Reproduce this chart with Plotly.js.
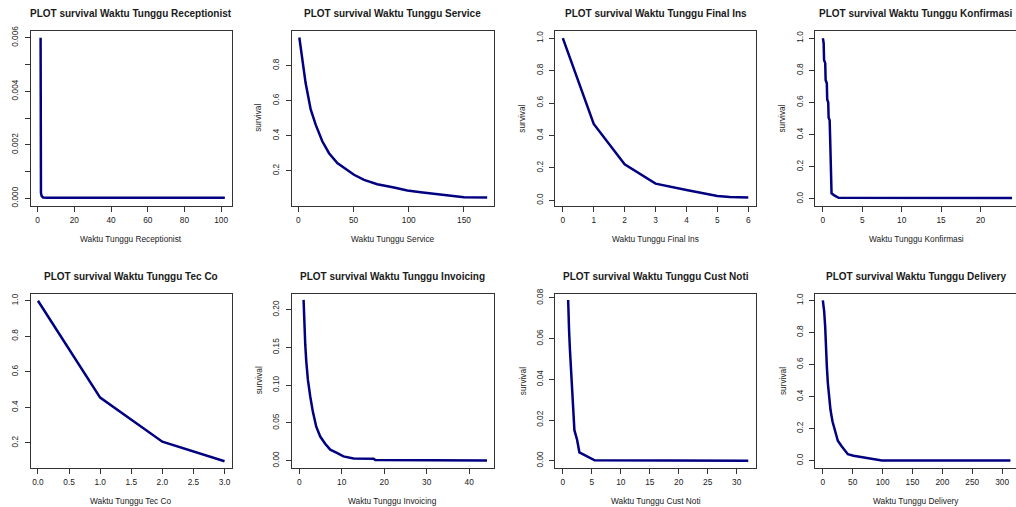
<!DOCTYPE html>
<html>
<head>
<meta charset="utf-8">
<script src="https://cdn.plot.ly/plotly-3.0.1.min.js"></script>
<style>html,body{margin:0;padding:0;background:#fff;}#chart{width:1016px;height:507px;}</style>
</head>
<body>
<div id="chart"></div>
<script>
// ---------- data ----------
const titles = [
  "PLOT survival Waktu Tunggu Receptionist",
  "PLOT survival Waktu Tunggu Service",
  "PLOT survival Waktu Tunggu Final Ins",
  "PLOT survival Waktu Tunggu Konfirmasi",
  "PLOT survival Waktu Tunggu Tec Co",
  "PLOT survival Waktu Tunggu Invoicing",
  "PLOT survival Waktu Tunggu Cust Noti",
  "PLOT survival Waktu Tunggu Delivery"
];
const xLabels = [
  "Waktu Tunggu Receptionist", "Waktu Tunggu Service", "Waktu Tunggu Final Ins", "Waktu Tunggu Konfirmasi",
  "Waktu Tunggu Tec Co", "Waktu Tunggu Invoicing", "Waktu Tunggu Cust Noti", "Waktu Tunggu Delivery"
];
const yLabel = "survival";

const receptionistX = [1.6, 1.65, 1.8, 2.2, 3, 5, 102];
const receptionistY = [0.006, 0.0004, 0.0002, 0.00008, 0.00003, 0.00002, 0.00002];

const serviceX = [0.9, 3.6, 6.6, 11.2, 15.7, 21.7, 27.8, 35.3, 41.4, 50.4, 59.5, 71.5, 86.6, 98.7, 110.8, 125.9, 141, 150, 171];
const serviceY = [0.96, 0.845, 0.70, 0.55, 0.463, 0.368, 0.30, 0.244, 0.215, 0.177, 0.148, 0.123, 0.104, 0.087, 0.078, 0.066, 0.057, 0.049, 0.047];

const finalInsX = [0, 1, 2, 3, 4, 5, 5.4, 6];
const finalInsY = [1.0, 0.471, 0.222, 0.103, 0.064, 0.027, 0.02, 0.018];

const konfirmasiX = [0, 0.1, 0.15, 0.3, 0.35, 0.5, 0.55, 0.68, 0.73, 0.86, 0.92, 1.02, 1.1, 1.5, 2.0, 24];
const konfirmasiY = [1.0, 0.97, 0.865, 0.845, 0.74, 0.72, 0.62, 0.6, 0.506, 0.49, 0.384, 0.156, 0.035, 0.02, 0.007, 0.006];

const tecCoX = [0, 1, 2, 3];
const tecCoY = [1.0, 0.455, 0.207, 0.097];

const invoicingX = [1.02, 1.18, 1.41, 1.65, 2.04, 2.59, 3.2, 4.0, 4.94, 6.1, 7.3, 8.86, 10.4, 12.8, 17.5, 17.9, 37.9, 38.0, 44.2];
const invoicingY = [0.213, 0.178, 0.154, 0.132, 0.107, 0.085, 0.065, 0.045, 0.032, 0.0225, 0.0146, 0.0102, 0.0057, 0.003, 0.0026, 0.0009, 0.0009, 0.0001, 0.0001];

const custNotiX = [0.92, 1.0, 1.08, 1.22, 1.3, 1.45, 1.55, 1.68, 1.8, 2.0, 2.46, 2.86, 3.6, 4.75, 5.5, 32];
const custNotiY = [0.079, 0.066, 0.064, 0.055, 0.051, 0.044, 0.036, 0.033, 0.024, 0.015, 0.0103, 0.0041, 0.003, 0.0013, 0.0002, 0.0];

const deliveryX = [0, 2.2, 3.9, 5.0, 6.7, 8.4, 10.6, 12.8, 16.2, 20.7, 25.1, 31.8, 41.9, 51.4, 65.4, 82, 98.9, 314];
const deliveryY = [1.0, 0.933, 0.839, 0.693, 0.589, 0.484, 0.40, 0.317, 0.244, 0.18, 0.124, 0.088, 0.04, 0.031, 0.021, 0.0104, 0.001, 0.001];

const seriesX = [receptionistX, serviceX, finalInsX, konfirmasiX, tecCoX, invoicingX, custNotiX, deliveryX];
const seriesY = [receptionistY, serviceY, finalInsY, konfirmasiY, tecCoY, invoicingY, custNotiY, deliveryY];

// tick values / labels
const xTickVals = [
  [0, 20, 40, 60, 80, 100], [0, 50, 100, 150], [0, 1, 2, 3, 4, 5, 6], [0, 5, 10, 15, 20],
  [0, 0.5, 1, 1.5, 2, 2.5, 3], [0, 10, 20, 30, 40], [0, 5, 10, 15, 20, 25, 30], [0, 50, 100, 150, 200, 250, 300]
];
const xTickText = [
  ["0", "20", "40", "60", "80", "100"], ["0", "50", "100", "150"], ["0", "1", "2", "3", "4", "5", "6"], ["0", "5", "10", "15", "20"],
  ["0.0", "0.5", "1.0", "1.5", "2.0", "2.5", "3.0"], ["0", "10", "20", "30", "40"], ["0", "5", "10", "15", "20", "25", "30"], ["0", "50", "100", "150", "200", "250", "300"]
];
const yTickVals = [
  [0, 0.001, 0.002, 0.003, 0.004, 0.005, 0.006], [0.2, 0.4, 0.6, 0.8], [0, 0.2, 0.4, 0.6, 0.8, 1.0], [0, 0.2, 0.4, 0.6, 0.8, 1.0],
  [0.2, 0.4, 0.6, 0.8, 1.0], [0, 0.05, 0.1, 0.15, 0.2], [0, 0.02, 0.04, 0.06, 0.08], [0, 0.2, 0.4, 0.6, 0.8, 1.0]
];
const yTickText = [
  ["0.000", "", "0.002", "", "0.004", "", "0.006"], ["0.2", "0.4", "0.6", "0.8"], ["0.0", "0.2", "0.4", "0.6", "0.8", "1.0"], ["0.0", "0.2", "0.4", "0.6", "0.8", "1.0"],
  ["0.2", "0.4", "0.6", "0.8", "1.0"], ["0.00", "0.05", "0.10", "0.15", "0.20"], ["0.00", "0.02", "0.04", "0.06", "0.08"], ["0.0", "0.2", "0.4", "0.6", "0.8", "1.0"]
];

// ---------- layout ----------
const W = 1016, H = 507;
const colPx = [[30.5, 232], [291.6, 493.8], [555.4, 755.7], [815.3, 1016]];
const colRightFull = [232, 493.8, 755.7, 1017.5];
const rowPx = [[30.5, 206], [293.5, 468]];
const xRanges = [[-3.9, 105.9], [-6.1, 177.0], [-0.24, 6.24], [-0.96, 24.5], [-0.12, 3.12], [-1.8, 45.8], [-1.28, 33.28], [-12.6, 323.3]];
const yRanges = [[-0.000288, 0.00627], [-0.001, 1.0], [-0.035, 1.047], [-0.044, 1.048], [0.0588, 1.0405], [-0.0097, 0.2215], [-0.0036, 0.0822], [-0.046, 1.043]];
const showYLabel = [false, true, true, true, false, true, true, true];

const fontFam = "Liberation Sans, Arial, sans-serif";
const txtCol = "#1a1a1a";
const lineCol = "#333333";
const traces = [];
const layout = {
  width: W, height: H,
  margin: {l: 0, r: 0, t: 0, b: 0},
  paper_bgcolor: "#ffffff", plot_bgcolor: "#ffffff",
  showlegend: false,
  font: {family: fontFam, size: 8.3, color: txtCol},
  annotations: []
};

for (let i = 0; i < 8; i++) {
  const c = i % 4, r = Math.floor(i / 4);
  const n = i + 1;
  const xa = n === 1 ? "xaxis" : "xaxis" + n;
  const ya = n === 1 ? "yaxis" : "yaxis" + n;
  traces.push({
    type: "scatter", mode: "lines",
    x: seriesX[i], y: seriesY[i],
    xaxis: "x" + (n === 1 ? "" : n), yaxis: "y" + (n === 1 ? "" : n),
    line: {color: "#000080", width: 2.5},
    hoverinfo: "skip"
  });
  const common = {
    showgrid: false, zeroline: false, showline: true, linecolor: lineCol, linewidth: 1,
    ticks: "outside", ticklen: 5, tickwidth: 1, tickcolor: lineCol,
    tickmode: "array", fixedrange: true,
    tickfont: {family: fontFam, size: 8.3, color: txtCol}
  };
  layout[xa] = Object.assign({}, common, {
    domain: [colPx[c][0] / W, colPx[c][1] / W],
    range: xRanges[i], autorange: false,
    anchor: "y" + (n === 1 ? "" : n),
    mirror: true,
    tickvals: xTickVals[i], ticktext: xTickText[i],
    ticklabelstandoff: 1
  });
  layout[ya] = Object.assign({}, common, {
    domain: [1 - rowPx[r][1] / H, 1 - rowPx[r][0] / H],
    range: yRanges[i], autorange: false,
    anchor: "x" + (n === 1 ? "" : n),
    mirror: c === 3 ? false : true,
    tickvals: yTickVals[i], ticktext: yTickText[i],
    tickangle: -90,
    ticklabelstandoff: 3
  });
  const cx = (colPx[c][0] + colRightFull[c]) / 2;
  const cy = (rowPx[r][0] + rowPx[r][1]) / 2;
  // main title
  layout.annotations.push({
    xref: "paper", yref: "paper", x: cx / W, y: 1 - (rowPx[r][0] - 17) / H,
    xanchor: "center", yanchor: "middle", showarrow: false,
    text: titles[i], font: {family: fontFam, size: 10, color: txtCol, weight: "bold"}
  });
  // x label
  layout.annotations.push({
    xref: "paper", yref: "paper", x: cx / W, y: 1 - (rowPx[r][1] + 33.3) / H,
    xanchor: "center", yanchor: "middle", showarrow: false,
    text: xLabels[i], font: {family: fontFam, size: 8.3, color: txtCol}
  });
  if (showYLabel[i]) {
    layout.annotations.push({
      xref: "paper", yref: "paper", x: (colPx[c][0] - 33) / W, y: 1 - cy / H,
      xanchor: "center", yanchor: "middle", showarrow: false, textangle: -90,
      text: yLabel, font: {family: fontFam, size: 8.3, color: txtCol}
    });
  }
}

Plotly.newPlot("chart", traces, layout, {staticPlot: true, displayModeBar: false});
</script>
</body>
</html>
